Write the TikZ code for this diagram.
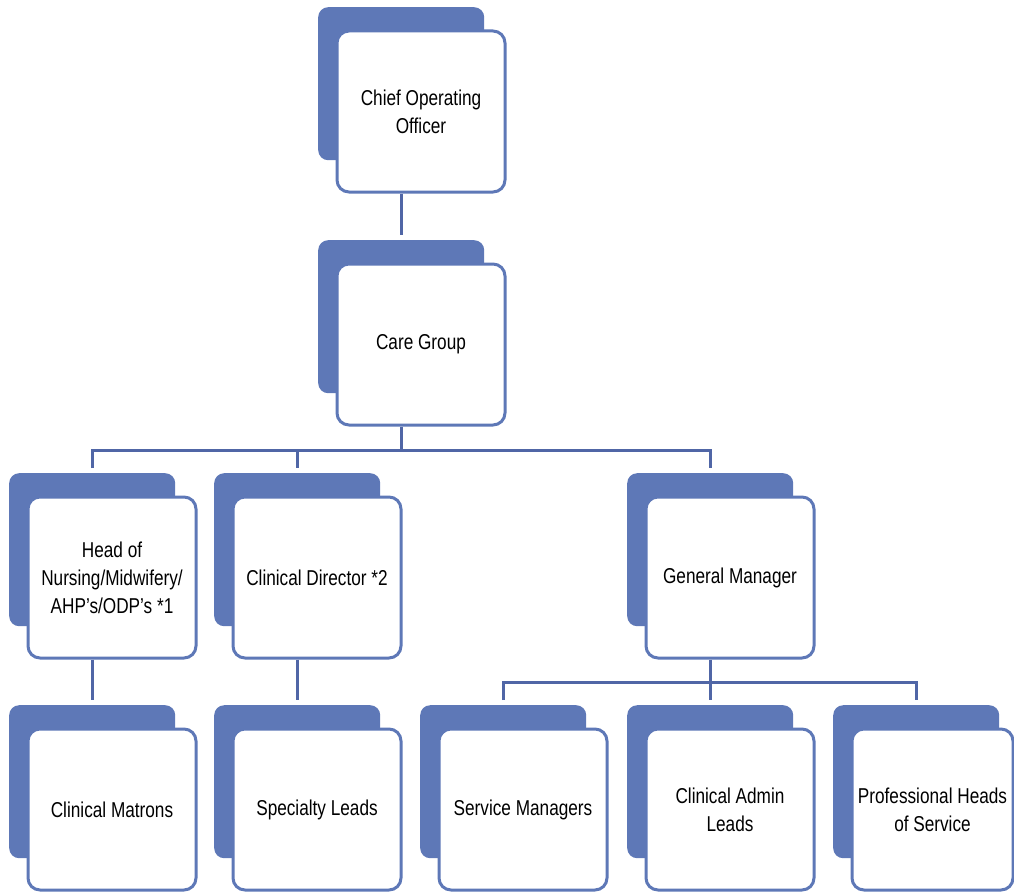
\documentclass[tikz,border=0pt]{standalone}
\usepackage{fontspec}
\setmainfont[FakeStretch=0.8]{Liberation Sans}
\usetikzlibrary{calc}
\definecolor{boxblue}{RGB}{94,120,183}
\definecolor{lineblue}{RGB}{80,102,166}
\begin{document}
\begin{tikzpicture}[x=1pt,y=-1pt,
  backbox/.style={anchor=north west, fill=boxblue, rounded corners=10pt, minimum width=166pt, minimum height=153pt, inner sep=0pt},
  frontbox/.style={anchor=north west, draw=boxblue, line width=3pt, fill=white, rounded corners=12pt, minimum width=168pt, minimum height=161pt, inner sep=0pt, align=center, font=\fontsize{21.5}{28}\selectfont},
  conn/.style={draw=lineblue, line width=3pt}]
\useasboundingbox (0,0) rectangle (1014,891);

% top
\node[backbox] (cooB) at (318,7) {};
\node[frontbox] (cooF) at (335.5,29.5) {Chief Operating\\Officer};
\node[backbox] (cgB) at (318,240) {};
\node[frontbox] (cgF) at (335.5,262.5) {Care Group};

% row 2
\node[backbox] (hnB) at (9,473) {};
\node[frontbox] (hnF) at (26.5,495.5) {Head of\\Nursing/Midwifery/\\AHP’s/ODP’s *1};
\node[backbox] (cdB) at (214,473) {};
\node[frontbox] (cdF) at (231.5,495.5) {Clinical Director *2};
\node[backbox] (gmB) at (627,473) {};
\node[frontbox] (gmF) at (644.5,495.5) {General Manager};

% row 3
\node[backbox] (cmB) at (9,705) {};
\node[frontbox] (cmF) at (26.5,727.5) {Clinical Matrons};
\node[backbox] (slB) at (214,705) {};
\node[frontbox] (slF) at (231.5,727.5) {Specialty Leads};
\node[backbox] (smB) at (420,705) {};
\node[frontbox] (smF) at (437.5,727.5) {Service Managers};
\node[backbox] (caB) at (627,705) {};
\node[frontbox] (caF) at (644.5,727.5) {Clinical Admin\\Leads};
\node[backbox] (phB) at (833,705) {};
\node[frontbox, minimum width=161pt] (phF) at (850.5,727.5) {Professional Heads\\of Service};

% connectors
\draw[conn] (cooF.south -| cooB.north) -- ($(cgB.north)+(0,-5)$);

\coordinate (bus1) at ($(cgF.south -| cgB.north)+(0,24)$);
\draw[conn] (cgF.south -| cgB.north) -- (bus1);
\draw[conn] ($(hnB.north)+(0,-5)$) |- (bus1 -| gmB.north) -- ($(gmB.north)+(0,-5)$);
\draw[conn] (bus1 -| cdB.north) -- ($(cdB.north)+(0,-5)$);

\draw[conn] (hnF.south -| hnB.north) -- ($(cmB.north)+(0,-5)$);
\draw[conn] (cdF.south -| cdB.north) -- ($(slB.north)+(0,-5)$);

\coordinate (bus2) at ($(gmF.south -| gmB.north)+(0,23)$);
\draw[conn] (gmF.south -| gmB.north) -- ($(caB.north)+(0,-5)$);
\draw[conn] ($(smB.north)+(0,-5)$) |- (bus2 -| phB.north) -- ($(phB.north)+(0,-5)$);
\end{tikzpicture}
\end{document}
